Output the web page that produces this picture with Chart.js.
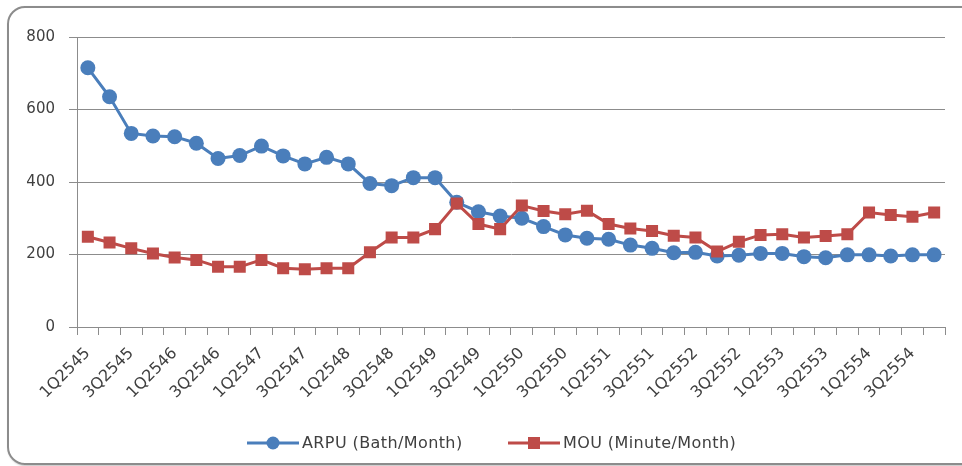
<!DOCTYPE html>
<html>
<head>
<meta charset="utf-8">
<script src="https://cdn.jsdelivr.net/npm/chart.js@4"></script>
<style>
  html, body { margin: 0; padding: 0; background: #ffffff; }
  #wrap { position: relative; width: 962px; height: 466px; overflow: hidden; background: #fff; }
  #frame { position: absolute; left: 7px; top: 6px; width: 970px; height: 455px; border: 2px solid #8c8c8c; border-radius: 18px; box-shadow: 1px 1px 2px rgba(0,0,0,0.25); }
  canvas { position: absolute; left: 0; top: 0; }
</style>
</head>
<body>
<div id="wrap">
  <div id="frame"></div>
  <canvas id="c" width="962" height="466"></canvas>
</div>
<script>
const quarters = [
  "1Q2545","2Q2545","3Q2545","4Q2545",
  "1Q2546","2Q2546","3Q2546","4Q2546",
  "1Q2547","2Q2547","3Q2547","4Q2547",
  "1Q2548","2Q2548","3Q2548","4Q2548",
  "1Q2549","2Q2549","3Q2549","4Q2549",
  "1Q2550","2Q2550","3Q2550","4Q2550",
  "1Q2551","2Q2551","3Q2551","4Q2551",
  "1Q2552","2Q2552","3Q2552","4Q2552",
  "1Q2553","2Q2553","3Q2553","4Q2553",
  "1Q2554","2Q2554","3Q2554","4Q2554"
];
const arpu = [715, 635, 534, 527, 525, 507, 465, 473, 499, 472,
              450, 468, 450, 396, 390, 412, 412, 344, 318, 306,
              300, 277, 254, 245, 242, 226, 217, 205, 206, 196,
              198, 203, 203, 194, 191, 199, 199, 196, 199, 199];
const mou  = [249, 233, 217, 203, 192, 185, 166, 166, 185, 162,
              159, 162, 162, 206, 247, 247, 270, 341, 284, 270,
              335, 320, 311, 321, 284, 272, 265, 252, 247, 208,
              235, 254, 256, 247, 251, 256, 316, 309, 304, 316];
const seriesNames = ["ARPU (Bath/Month)", "MOU (Minute/Month)"];
const yTicks = [0, 200, 400, 600, 800];

const BLUE = "#4A7EBB";
const RED = "#BE4B48";
const FONT = "'DejaVu Sans', sans-serif";

const legendPlugin = {
  id: "customLegend",
  afterDraw(chart) {
    const ctx = chart.ctx;
    const items = [
      { x: 247, color: BLUE, style: "circle", text: seriesNames[0] },
      { x: 508, color: RED, style: "rect", text: seriesNames[1] }
    ];
    const y = 443;
    ctx.save();
    items.forEach(it => {
      ctx.strokeStyle = it.color;
      ctx.lineWidth = 3;
      ctx.beginPath();
      ctx.moveTo(it.x, y);
      ctx.lineTo(it.x + 52, y);
      ctx.stroke();
      ctx.fillStyle = it.color;
      if (it.style === "circle") {
        ctx.beginPath();
        ctx.arc(it.x + 26, y, 6.5, 0, Math.PI * 2);
        ctx.fill();
      } else {
        ctx.fillRect(it.x + 20, y - 6, 12, 12);
      }
      ctx.fillStyle = "#404040";
      ctx.font = "16px " + FONT;
      try { ctx.letterSpacing = "0.4px"; } catch (e) {}
      ctx.textBaseline = "middle";
      ctx.textAlign = "left";
      ctx.fillText(it.text, it.x + 55, y + 1);
    });
    ctx.restore();
  }
};

new Chart(document.getElementById("c"), {
  type: "line",
  data: {
    labels: quarters,
    datasets: [
      {
        label: seriesNames[0],
        data: arpu,
        order: 1,
        borderColor: BLUE,
        backgroundColor: BLUE,
        borderWidth: 3,
        pointStyle: "circle",
        pointRadius: 7.5,
        pointBorderWidth: 0,
        tension: 0
      },
      {
        label: seriesNames[1],
        data: mou,
        order: 0,
        borderColor: RED,
        backgroundColor: RED,
        borderWidth: 3,
        pointStyle: "rect",
        pointRadius: 8.5,
        pointBorderWidth: 0,
        tension: 0
      }
    ]
  },
  options: {
    responsive: false,
    animation: false,
    layout: { padding: { left: 10, right: 17, top: 37, bottom: 0 } },
    plugins: {
      legend: { display: false },
      tooltip: { enabled: false }
    },
    scales: {
      x: {
        offset: true,
        grid: {
          offset: true,
          drawOnChartArea: false,
          drawTicks: true,
          tickLength: 8,
          color: "#8c8c8c",
          lineWidth: 1
        },
        border: { display: true, color: "#8c8c8c", width: 1 },
        ticks: {
          autoSkip: false,
          maxRotation: 45,
          minRotation: 45,
          color: "#404040",
          font: { family: FONT, size: 16 },
          padding: 9,
          callback: function (v, i) { return i % 2 === 0 ? quarters[i] : ""; }
        },
        afterFit(scale) { scale.height = 139; }
      },
      y: {
        min: 0,
        max: 800,
        afterBuildTicks(scale) { scale.ticks = yTicks.map(v => ({ value: v })); },
        grid: {
          color: "#8c8c8c",
          lineWidth: 1,
          drawTicks: true,
          tickLength: 8
        },
        border: { display: true, color: "#8c8c8c", width: 1 },
        ticks: {
          color: "#404040",
          font: { family: FONT, size: 15 },
          padding: 14
        },
        afterFit(scale) { scale.width = 67; }
      }
    }
  },
  plugins: [legendPlugin]
});
</script>
</body>
</html>
